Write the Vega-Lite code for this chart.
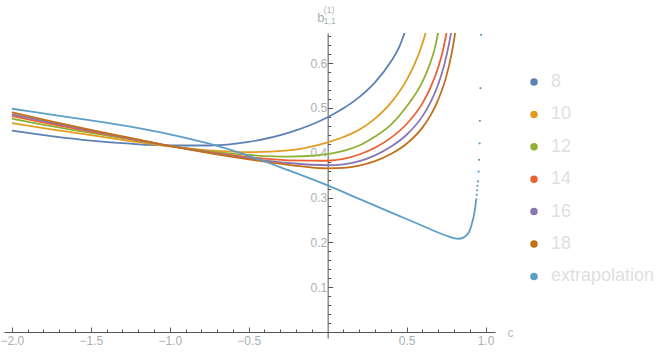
{
  "$schema": "https://vega.github.io/schema/vega-lite/v6.json",
  "width": 491,
  "height": 305,
  "autosize": {"type": "none"},
  "padding": {"left": 4, "top": 33, "right": 169, "bottom": 17},
  "background": "white",
  "config": {
    "view": {"stroke": null},
    "font": "Liberation Sans",
    "axis": {"grid": false, "domainColor": "#555555", "tickColor": "#555555", "labelColor": "#a9b0b3", "titleColor": "#a9b0b3", "labelFont": "Liberation Sans", "titleFont": "Liberation Sans", "titleFontWeight": "normal"}
  },
  "resolve": {"axis": {"x": "independent", "y": "independent"}},
  "datasets": {
    "curves": [
      {"n": "8", "c": -2, "b": 0.449}, {"n": "8", "c": -1.75, "b": 0.437}, {"n": "8", "c": -1.5, "b": 0.427}, {"n": "8", "c": -1.25, "b": 0.420}, {"n": "8", "c": -1, "b": 0.416}, {"n": "8", "c": -0.75, "b": 0.416}, {"n": "8", "c": -0.5, "b": 0.424}, {"n": "8", "c": -0.25, "b": 0.444}, {"n": "8", "c": 0, "b": 0.479}, {"n": "8", "c": 0.1, "b": 0.499}, {"n": "8", "c": 0.2, "b": 0.524}, {"n": "8", "c": 0.3, "b": 0.557}, {"n": "8", "c": 0.4, "b": 0.603}, {"n": "8", "c": 0.45, "b": 0.633}, {"n": "8", "c": 0.5, "b": 0.68},
      {"n": "10", "c": -2, "b": 0.466}, {"n": "10", "c": -1.75, "b": 0.452}, {"n": "10", "c": -1.5, "b": 0.439}, {"n": "10", "c": -1.25, "b": 0.426}, {"n": "10", "c": -1, "b": 0.414}, {"n": "10", "c": -0.75, "b": 0.405}, {"n": "10", "c": -0.5, "b": 0.401}, {"n": "10", "c": -0.25, "b": 0.405}, {"n": "10", "c": 0, "b": 0.423}, {"n": "10", "c": 0.1, "b": 0.435}, {"n": "10", "c": 0.2, "b": 0.451}, {"n": "10", "c": 0.3, "b": 0.476}, {"n": "10", "c": 0.4, "b": 0.511}, {"n": "10", "c": 0.5, "b": 0.562}, {"n": "10", "c": 0.55, "b": 0.597}, {"n": "10", "c": 0.6, "b": 0.643}, {"n": "10", "c": 0.65, "b": 0.705},
      {"n": "12", "c": -2, "b": 0.476}, {"n": "12", "c": -1.75, "b": 0.459}, {"n": "12", "c": -1.5, "b": 0.444}, {"n": "12", "c": -1.25, "b": 0.430}, {"n": "12", "c": -1, "b": 0.415}, {"n": "12", "c": -0.75, "b": 0.403}, {"n": "12", "c": -0.5, "b": 0.395}, {"n": "12", "c": -0.25, "b": 0.391}, {"n": "12", "c": 0, "b": 0.397}, {"n": "12", "c": 0.1, "b": 0.404}, {"n": "12", "c": 0.2, "b": 0.416}, {"n": "12", "c": 0.3, "b": 0.436}, {"n": "12", "c": 0.4, "b": 0.462}, {"n": "12", "c": 0.5, "b": 0.503}, {"n": "12", "c": 0.6, "b": 0.558}, {"n": "12", "c": 0.65, "b": 0.600}, {"n": "12", "c": 0.68, "b": 0.635}, {"n": "12", "c": 0.7, "b": 0.668}, {"n": "12", "c": 0.72, "b": 0.71},
      {"n": "14", "c": -2, "b": 0.482}, {"n": "14", "c": -1.75, "b": 0.464}, {"n": "14", "c": -1.5, "b": 0.447}, {"n": "14", "c": -1.25, "b": 0.431}, {"n": "14", "c": -1, "b": 0.415}, {"n": "14", "c": -0.75, "b": 0.401}, {"n": "14", "c": -0.5, "b": 0.390}, {"n": "14", "c": -0.25, "b": 0.383}, {"n": "14", "c": 0, "b": 0.382}, {"n": "14", "c": 0.1, "b": 0.386}, {"n": "14", "c": 0.2, "b": 0.396}, {"n": "14", "c": 0.3, "b": 0.411}, {"n": "14", "c": 0.4, "b": 0.433}, {"n": "14", "c": 0.5, "b": 0.464}, {"n": "14", "c": 0.6, "b": 0.510}, {"n": "14", "c": 0.65, "b": 0.544}, {"n": "14", "c": 0.7, "b": 0.590}, {"n": "14", "c": 0.73, "b": 0.628}, {"n": "14", "c": 0.75, "b": 0.662}, {"n": "14", "c": 0.77, "b": 0.70},
      {"n": "16", "c": -2, "b": 0.486}, {"n": "16", "c": -1.75, "b": 0.467}, {"n": "16", "c": -1.5, "b": 0.449}, {"n": "16", "c": -1.25, "b": 0.432}, {"n": "16", "c": -1, "b": 0.415}, {"n": "16", "c": -0.75, "b": 0.400}, {"n": "16", "c": -0.5, "b": 0.387}, {"n": "16", "c": -0.25, "b": 0.377}, {"n": "16", "c": 0, "b": 0.372}, {"n": "16", "c": 0.1, "b": 0.374}, {"n": "16", "c": 0.2, "b": 0.381}, {"n": "16", "c": 0.3, "b": 0.394}, {"n": "16", "c": 0.4, "b": 0.413}, {"n": "16", "c": 0.5, "b": 0.440}, {"n": "16", "c": 0.6, "b": 0.481}, {"n": "16", "c": 0.65, "b": 0.511}, {"n": "16", "c": 0.7, "b": 0.552}, {"n": "16", "c": 0.74, "b": 0.598}, {"n": "16", "c": 0.77, "b": 0.645}, {"n": "16", "c": 0.79, "b": 0.685},
      {"n": "18", "c": -2, "b": 0.490}, {"n": "18", "c": -1.75, "b": 0.470}, {"n": "18", "c": -1.5, "b": 0.451}, {"n": "18", "c": -1.25, "b": 0.433}, {"n": "18", "c": -1, "b": 0.415}, {"n": "18", "c": -0.75, "b": 0.399}, {"n": "18", "c": -0.5, "b": 0.385}, {"n": "18", "c": -0.25, "b": 0.373}, {"n": "18", "c": 0, "b": 0.365}, {"n": "18", "c": 0.1, "b": 0.366}, {"n": "18", "c": 0.2, "b": 0.371}, {"n": "18", "c": 0.3, "b": 0.381}, {"n": "18", "c": 0.4, "b": 0.397}, {"n": "18", "c": 0.5, "b": 0.420}, {"n": "18", "c": 0.6, "b": 0.456}, {"n": "18", "c": 0.65, "b": 0.482}, {"n": "18", "c": 0.7, "b": 0.518}, {"n": "18", "c": 0.75, "b": 0.568}, {"n": "18", "c": 0.78, "b": 0.612}, {"n": "18", "c": 0.8, "b": 0.650}, {"n": "18", "c": 0.815, "b": 0.685},
      {"n": "extrapolation", "c": -2, "b": 0.498}, {"n": "extrapolation", "c": -1.75, "b": 0.485}, {"n": "extrapolation", "c": -1.5, "b": 0.472}, {"n": "extrapolation", "c": -1.25, "b": 0.458}, {"n": "extrapolation", "c": -1, "b": 0.441}, {"n": "extrapolation", "c": -0.75, "b": 0.420}, {"n": "extrapolation", "c": -0.5, "b": 0.393}, {"n": "extrapolation", "c": -0.25, "b": 0.361}, {"n": "extrapolation", "c": 0, "b": 0.327}, {"n": "extrapolation", "c": 0.2, "b": 0.297}, {"n": "extrapolation", "c": 0.4, "b": 0.267}, {"n": "extrapolation", "c": 0.5, "b": 0.252}, {"n": "extrapolation", "c": 0.6, "b": 0.237}, {"n": "extrapolation", "c": 0.7, "b": 0.222}, {"n": "extrapolation", "c": 0.76, "b": 0.214}, {"n": "extrapolation", "c": 0.8, "b": 0.2095}, {"n": "extrapolation", "c": 0.83, "b": 0.208}, {"n": "extrapolation", "c": 0.86, "b": 0.2105}, {"n": "extrapolation", "c": 0.88, "b": 0.216}, {"n": "extrapolation", "c": 0.9, "b": 0.226}, {"n": "extrapolation", "c": 0.912, "b": 0.240}, {"n": "extrapolation", "c": 0.925, "b": 0.258}, {"n": "extrapolation", "c": 0.935, "b": 0.278}, {"n": "extrapolation", "c": 0.942, "b": 0.298}
    ],
    "tail": [
      {"n": "extrapolation", "c": 0.944, "b": 0.306}, {"n": "extrapolation", "c": 0.946, "b": 0.316}, {"n": "extrapolation", "c": 0.949, "b": 0.326}, {"n": "extrapolation", "c": 0.953, "b": 0.336}, {"n": "extrapolation", "c": 0.956, "b": 0.358}, {"n": "extrapolation", "c": 0.959, "b": 0.384}, {"n": "extrapolation", "c": 0.962, "b": 0.421}, {"n": "extrapolation", "c": 0.964, "b": 0.471}, {"n": "extrapolation", "c": 0.968, "b": 0.544}, {"n": "extrapolation", "c": 0.972, "b": 0.663}
    ]
  },
  "layer": [
    {
      "data": {"name": "curves"},
      "mark": {"type": "line", "strokeWidth": 1.8, "interpolate": "monotone", "clip": true},
      "encoding": {
        "x": {"field": "c", "type": "quantitative", "scale": {"domain": [-2.05, 1.06], "nice": false, "zero": false},
          "axis": {"orient": "bottom", "offset": -6, "values": [-2, -1.5, -1, -0.5, 0.5, 1], "format": ".1f", "tickSize": -5, "labelPadding": 8, "labelFontSize": 12, "labelFlush": false, "labelOverlap": false,
            "title": "c", "titleX": 506, "titleY": 0, "titleAlign": "center", "titleBaseline": "middle", "titleFontSize": 12, "titleColor": "#b8bec1"}},
        "y": {"field": "b", "type": "quantitative", "scale": {"domain": [-0.0134, 0.667], "nice": false, "zero": false},
          "axis": {"orient": "left", "offset": -323.65, "values": [0.1, 0.2, 0.3, 0.4, 0.5, 0.6], "format": ".1f", "tickSize": -5, "labelPadding": 6, "labelFontSize": 12, "labelOverlap": false,
            "title": "b", "titleAngle": 0, "titleX": -7.3, "titleY": -11.3, "titleAlign": "center", "titleBaseline": "alphabetic", "titleFontSize": 13}},
        "color": {"field": "n", "type": "nominal", "sort": null,
          "scale": {"domain": ["8", "10", "12", "14", "16", "18", "extrapolation"], "range": ["#5E81B5", "#E19C24", "#8FB032", "#EB6235", "#8778B3", "#C56E1A", "#5D9EC7"]},
          "legend": {"orient": "none", "legendX": 521, "legendY": 40, "title": null, "symbolType": "circle", "symbolSize": 36, "labelFontSize": 18, "labelColor": "#e0e0e0", "labelFont": "Liberation Sans", "rowPadding": 14.4, "labelOffset": 8, "padding": 0,
            "encode": {"symbols": {"update": {"fill": {"scale": "color", "field": "value"}, "stroke": {"value": "transparent"}, "opacity": {"value": 1}}}}}}
      }
    },
    {
      "data": {"name": "tail"},
      "mark": {"type": "point", "filled": true, "size": 5, "opacity": 1, "clip": true},
      "encoding": {
        "x": {"field": "c", "type": "quantitative",
          "axis": {"orient": "bottom", "offset": -6, "values": [-1.9, -1.8, -1.7, -1.6, -1.4, -1.3, -1.2, -1.1, -0.9, -0.8, -0.7, -0.6, -0.4, -0.3, -0.2, -0.1, 0.1, 0.2, 0.3, 0.4, 0.6, 0.7, 0.8, 0.9], "tickSize": -3, "labels": false, "domain": false,
            "title": "1,1", "titleX": 319.3, "titleY": -309, "titleAlign": "left", "titleBaseline": "alphabetic", "titleFontSize": 8.5}},
        "y": {"field": "b", "type": "quantitative",
          "axis": {"orient": "left", "offset": -323.65, "values": [0.02, 0.04, 0.06, 0.08, 0.12, 0.14, 0.16, 0.18, 0.22, 0.24, 0.26, 0.28, 0.32, 0.34, 0.36, 0.38, 0.42, 0.44, 0.46, 0.48, 0.52, 0.54, 0.56, 0.58, 0.62, 0.64, 0.66], "tickSize": -3, "labels": false, "domain": false,
            "title": "(1)", "titleAngle": 0, "titleX": -4.3, "titleY": -20.5, "titleAlign": "left", "titleBaseline": "alphabetic", "titleFontSize": 8.5}},
        "color": {"field": "n", "type": "nominal", "legend": null}
      }
    }
  ]
}
